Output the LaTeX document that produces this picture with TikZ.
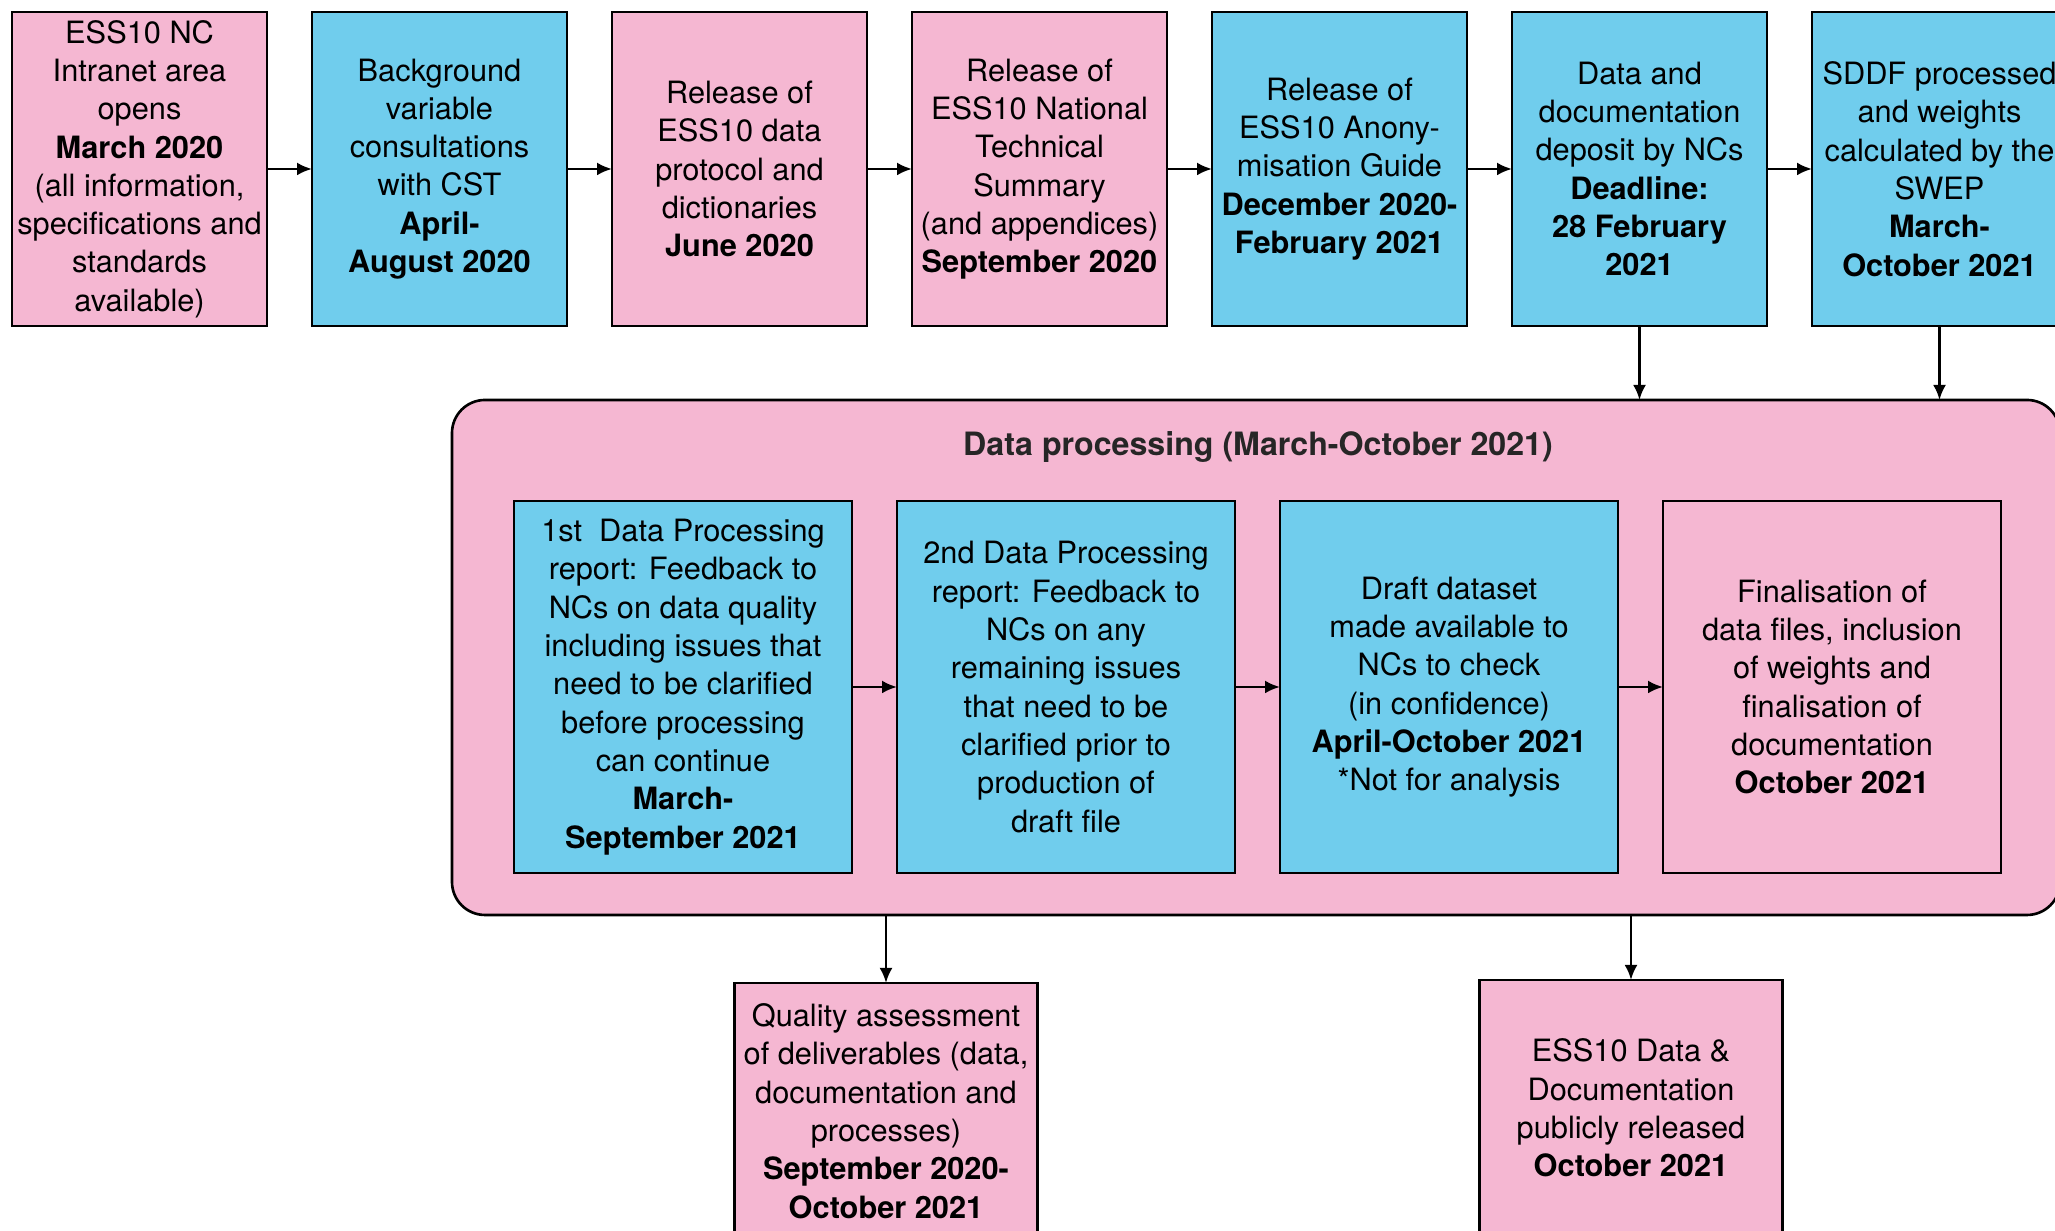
\documentclass[tikz,border=0pt]{standalone}
\usepackage{fontspec}
\setmainfont{TeX Gyre Heros}
\usetikzlibrary{positioning,arrows.meta}

\definecolor{esspink}{RGB}{245,183,210}
\definecolor{essblue}{RGB}{112,205,237}

\tikzset{
	stage/.style={draw=black,line width=0.75pt,align=center,inner sep=0pt,outer sep=0pt,
		font=\fontsize{8.75}{10.9}\selectfont},
	toprow/.style={stage,minimum width=2.55cm,minimum height=3.14cm},
	procrow/.style={stage,minimum width=3.38cm,minimum height=3.72cm},
	outrow/.style={stage,minimum width=3.03cm,minimum height=2.56cm,anchor=north},
	pinkbox/.style={fill=esspink},
	bluebox/.style={fill=essblue},
}

\begin{document}
\begin{tikzpicture}[>={Latex[length=1.5mm,width=1.3mm]},line width=0.75pt,node distance=0.45cm]
	\useasboundingbox (0,0) rectangle (20.55,12.31);
	% timeline up to the deposit
	\node[toprow,pinkbox] (intranet) at (1.395,10.62) {ESS10 NC\\Intranet area\\opens\\\textbf{March 2020}\\(all information,\\specifications and\\standards\\available)};
	\node[toprow,bluebox,right=of intranet] (consult) {Background\\variable\\consultations\\with CST\\\textbf{April-}\\\textbf{August 2020}};
	\node[toprow,pinkbox,right=of consult] (protocol) {Release of\\ESS10 data\\protocol and\\dictionaries\\\textbf{June 2020}};
	\node[toprow,pinkbox,right=of protocol] (summary) {Release of\\ESS10 National\\Technical\\Summary\\(and appendices)\\\textbf{September 2020}};
	\node[toprow,bluebox,right=of summary] (anon) {Release of\\ESS10 Anony-\\misation Guide\\\textbf{December 2020-}\\\textbf{February 2021}};
	\node[toprow,bluebox,right=of anon] (deposit) {Data and\\documentation\\deposit by NCs\\\textbf{Deadline:}\\\textbf{28 February}\\\textbf{2021}};
	\node[toprow,bluebox,right=of deposit] (sddf) {SDDF processed\\and weights\\calculated by the\\SWEP\\\textbf{March-}\\\textbf{October 2021}};
	\draw[->] (intranet) -- (consult);
	\draw[->] (consult) -- (protocol);
	\draw[->] (protocol) -- (summary);
	\draw[->] (summary) -- (anon);
	\draw[->] (anon) -- (deposit);
	\draw[->] (deposit) -- (sddf);

	% data processing block
	\node[draw,fill=esspink,rounded corners=0.33cm,outer sep=0pt,minimum width=16.08cm,minimum height=5.15cm] (proc) at (12.56,5.735) {};
	\node[font=\fontsize{9.15}{11.4}\selectfont\bfseries,text=black!85] (proctitle) at (12.58,7.84) {Data processing (March-October 2021)};
	\draw[->] (deposit.south) -- (deposit.south |- proc.north);
	\draw[->] (sddf.south) -- (sddf.south |- proc.north);

	\node[procrow,bluebox] (first) at (6.83,5.44) {1st~ Data Processing\\report: Feedback to\\NCs on data quality\\including issues that\\need to be clarified\\before processing\\can continue\\\textbf{March-}\\\textbf{September 2021}};
	\node[procrow,bluebox,right=of first] (second) {2nd Data Processing\\report: Feedback to\\NCs on any\\remaining issues\\that need to be\\clarified prior to\\production of\\draft file};
	\node[procrow,bluebox,right=of second] (draft) {Draft dataset\\made available to\\NCs to check\\(in confidence)\\\textbf{April-October 2021}\\*Not for analysis};
	\node[procrow,pinkbox,right=of draft] (final) {Finalisation of\\data files, inclusion\\of weights and\\finalisation of\\documentation\\\textbf{October 2021}};
	\draw[->] (first) -- (second);
	\draw[->] (second) -- (draft);
	\draw[->] (draft) -- (final);

	% outputs
	\node[outrow,pinkbox] (quality) at (8.86,2.48) {Quality assessment\\of deliverables (data,\\documentation and\\processes)\\\textbf{September 2020-}\\\textbf{October 2021}};
	\node[outrow,pinkbox] (release) at (16.31,2.51) {ESS10 Data \&\\Documentation\\publicly released\\\textbf{October 2021}};
	\draw[->] (quality.north |- proc.south) -- (quality.north);
	\draw[->] (release.north |- proc.south) -- (release.north);
\end{tikzpicture}
\end{document}
